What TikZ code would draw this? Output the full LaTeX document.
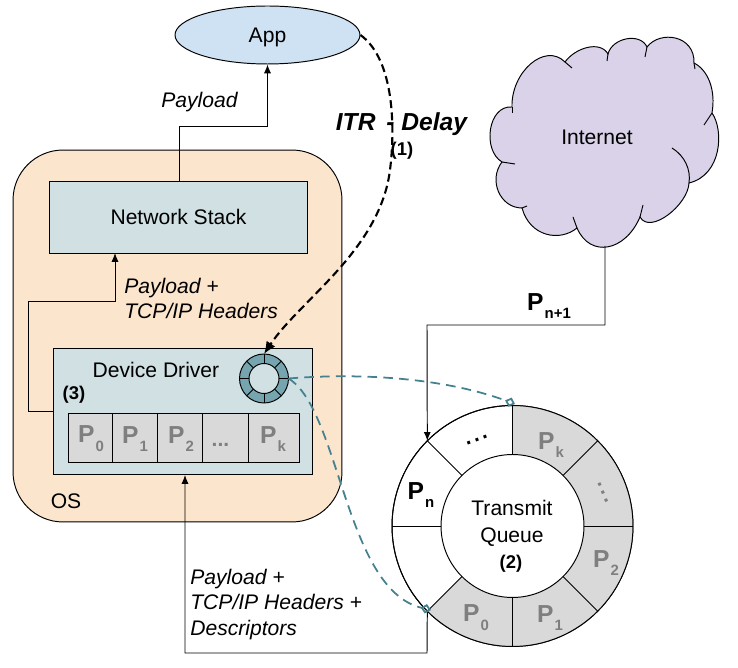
\documentclass[tikz,border=0pt]{standalone}
\usepackage{fontspec}
\setmainfont{Liberation Sans}
\usetikzlibrary{arrows.meta,shapes.geometric}
\definecolor{osfill}{HTML}{FCE5CD}
\definecolor{boxfill}{HTML}{D0E0E3}
\definecolor{appfill}{HTML}{CFE2F3}
\definecolor{cloudfill}{HTML}{D9D2E9}
\definecolor{pktfill}{HTML}{D9D9D9}
\definecolor{pkttext}{HTML}{7F7F7F}
\definecolor{teal}{HTML}{45818E}
\definecolor{ringfill}{HTML}{76A5AF}
\newcommand{\pkt}[1]{{\fontsize{14}{15}\selectfont\bfseries P\kern0.6pt\raisebox{-5pt}{\fontsize{8.5}{9}\selectfont #1}}}
\newcommand{\basefont}{\fontsize{12}{14}\selectfont}
\newcommand{\gapdots}{.\kern1.6pt.\kern1.6pt.}
\tikzset{
  wire/.style={line width=0.55pt},
  arr/.style={wire,-{Latex[length=5pt,width=4pt]}},
  pktlabel/.style={pkttext,inner sep=0pt},
  note/.style={font=\basefont\itshape,align=left,anchor=west,inner sep=0pt},
  tag/.style={font=\fontsize{10.5}{12}\selectfont\bfseries,inner sep=0pt},
  qlink/.style={teal,line width=1pt,dash pattern=on 5.5pt off 3.5pt,-{Diamond[open,length=6pt,width=5.5pt]}}
}
\begin{document}
\begin{tikzpicture}[x=0.02cm,y=-0.02cm,font=\basefont]
  \useasboundingbox (0,0) rectangle (738,668);
  \node[draw,wire,fill=osfill,rounded corners=1cm,minimum width=6.58cm,minimum height=7.44cm,inner sep=0pt] (os) at (177.5,336) {};
  \node at (66,501) (oslabel) {OS};
  \node[draw,wire,fill=boxfill,minimum width=5.18cm,minimum height=1.44cm,inner sep=0pt] (stack) at (178.5,217) {Network Stack};
  \node[draw,wire,fill=boxfill,minimum width=5.2cm,minimum height=2.54cm,inner sep=0pt] (driver) at (183,411.5) {};
  \node (drivername) at (156,370) {Device Driver};
  \node[tag] (drivertag) at (74,395) {(3)};
  \node[draw,wire,fill=appfill,ellipse,minimum width=3.7cm,minimum height=1.16cm,inner sep=0pt,text depth=0pt] (app) at (267.5,35) {App};

  \draw[wire,fill=pktfill] (68,413) rectangle (299,462);
  \foreach \x in {112,157,202,248}
    \draw[wire] (\x,413) -- (\x,462);
  \node[pktlabel] (d0) at (91,439) {\pkt{0}};
  \node[pktlabel] (d1) at (135,439) {\pkt{1}};
  \node[pktlabel] (d2) at (181,439) {\pkt{2}};
  \node[pktlabel,font=\basefont\bfseries] (d3) at (220.5,445) {...};
  \node[pktlabel] (dk) at (273,439) {\pkt{k}};

  \node[draw,wire,fill=ringfill,circle,minimum size=0.98cm,inner sep=0pt,outer sep=0pt] (sring) at (264,378.5) {};
  \node[circle,minimum size=0.6cm,inner sep=0pt,outer sep=0pt] (shole) at (264,378.5) {};
  \foreach \a in {0,45,...,315}
    \draw[wire] (shole.\a) -- (sring.\a);
  \node[draw,wire,fill=boxfill,circle,minimum size=0.6cm,inner sep=0pt,outer sep=0pt] at (264,378.5) {};

  \draw[wire,fill=cloudfill] (512,107)
    .. controls (511,72) and (545,42) .. (565,62)
    .. controls (575,48) and (600,40) .. (608,54)
    .. controls (612,38) and (640,32) .. (647,47)
    .. controls (660,30) and (695,35) .. (694,63)
    .. controls (708,70) and (716,90) .. (712,113)
    .. controls (724,130) and (722,175) .. (689,183)
    .. controls (688,205) and (650,235) .. (640,217)
    .. controls (625,252) and (590,258) .. (577,228)
    .. controls (560,242) and (530,237) .. (522,208)
    .. controls (500,208) and (488,180) .. (502,162)
    .. controls (482,150) and (488,105) .. (512,107) -- cycle;
  \draw[wire] (512,107) -- (512,113);
  \draw[wire] (565,62) -- (572,68);
  \draw[wire] (608,54) -- (607,61);
  \draw[wire] (647,47) -- (645,57);
  \draw[wire] (694,63) -- (695,69);
  \draw[wire] (712,113) -- (704,125);
  \draw[wire] (672,148) .. controls (685,156) and (691,170) .. (689,183);
  \draw[wire] (640,217) -- (643,205);
  \draw[wire] (577,228) -- (573,217);
  \draw[wire] (522,208) -- (527,206);
  \draw[wire] (502,162) -- (515,164);
  \node (internet) at (597,137) {Internet};
  \coordinate (cloudfoot) at (605,246);

  \node[draw,wire,fill=white,circle,minimum size=4.82cm,inner sep=0pt,outer sep=0pt] (ring) at (512.5,526) {};
  \node[circle,minimum size=2.86cm,inner sep=0pt,outer sep=0pt] (hole) at (512.5,526) {};
  \fill[pktfill] (ring.90) arc[start angle=90,end angle=-135,radius=2.41cm] -- (hole.-135) arc[start angle=-135,end angle=90,radius=1.43cm] -- cycle;
  \draw[wire] (ring.center) circle[radius=2.41cm];
  \foreach \a in {0,45,...,315}
    \draw[wire] (hole.\a) -- (ring.\a);
  \node[draw,wire,fill=white,circle,minimum size=2.86cm,inner sep=0pt,outer sep=0pt,align=center] at (512.5,526) {};
  \node[align=center,inner sep=0pt] (qname) at (512,523.5) {Transmit\\[1.3pt]Queue};
  \node[tag] (qtag) at (511,564) {(2)};
  \node[pktlabel] (qk) at (551,445) {\pkt{k}};
  \node[pktlabel,font=\basefont\bfseries,rotate=-68] (qdots) at (603,493) {\gapdots};
  \node[pktlabel] (q2) at (606,563) {\pkt{2}};
  \node[pktlabel] (q1) at (550,618) {\pkt{1}};
  \node[pktlabel] (q0) at (476,618) {\pkt{0}};
  \node[inner sep=0pt,rotate=20,font=\basefont\bfseries] (qgap) at (477,440) {\gapdots};
  \node[inner sep=0pt] (qn) at (421,495) {\pkt{n}};

  \coordinate (appturn) at (179,126);
  \coordinate (stackturn) at (28,301);
  \coordinate (inturn) at (427,325);
  \coordinate (outturn) at (427,653);
  \coordinate (driverin) at (185,475);
  \coordinate (stackin) at (115,253);
  \coordinate (driverout) at (53,411);
  \coordinate (stackout) at (179,181);
  \coordinate (qtop) at (515,404);
  \coordinate (qbot) at (431,610);
  \draw[arr] (stackout) -- (appturn) -| (app.south);
  \draw[arr] (driverout) -| (stackturn) -| (stackin);
  \draw[arr] (cloudfoot) |- (inturn) -- (ring.135);
  \draw[arr] (ring.-135) -- (outturn) -| (driverin);

  \draw[line width=1.2pt,dash pattern=on 4.5pt off 2.5pt,-{Latex[length=7pt,width=6pt]}] (app.east)
    .. controls (395,60) and (395,130) .. (390,170)
    .. controls (380,250) and (300,300) .. (sring.north);
  \draw[qlink] (sring.east) .. controls (370,372) and (450,380) .. (qtop);
  \draw[qlink] (sring.east) .. controls (340,410) and (345,590) .. (qbot);

  \node[font=\fontsize{14}{18}\selectfont\bfseries\itshape,inner sep=0pt] (itr) at (401.5,124) {ITR \,- Delay};
  \node[tag] (itrtag) at (402,151) {(1)};
  \node[note] (n1) at (161,102) {Payload};
  \node[note] (n2) at (124,298.5) {Payload +\\[0.5pt]TCP/IP Headers};
  \node[note] (n3) at (190,604.5) {Payload +\\[0.5pt]TCP/IP Headers +\\[0.5pt]Descriptors};
  \node[inner sep=0pt] (pnext) at (549,306) {\pkt{n+1}};
\end{tikzpicture}
\end{document}
